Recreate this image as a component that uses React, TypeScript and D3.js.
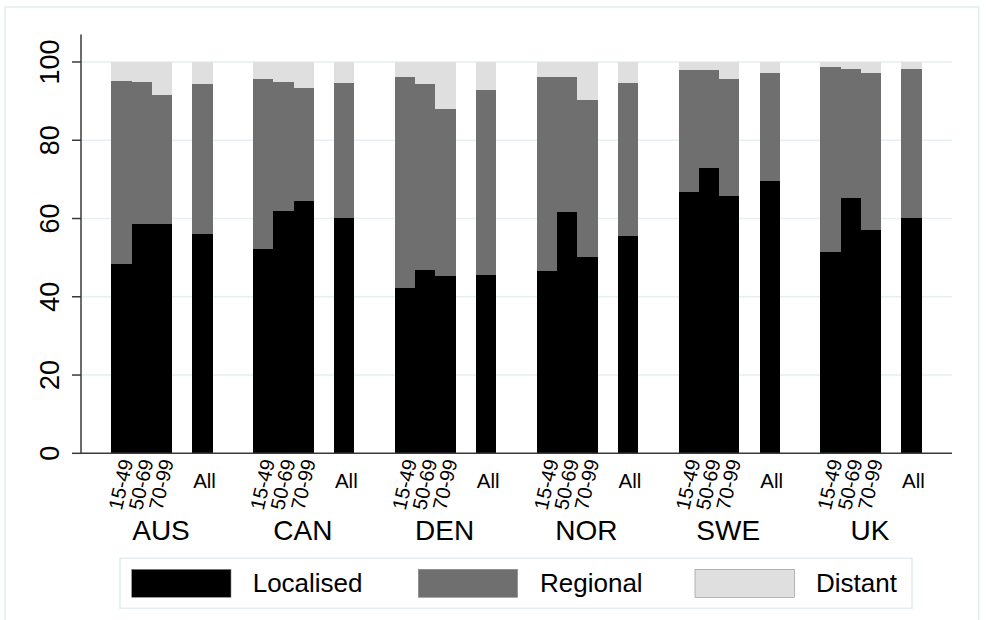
import React from "react";
import * as d3 from "d3";

const countries = ["AUS", "CAN", "DEN", "NOR", "SWE", "UK"];
const ageGroups = ["15-49", "50-69", "70-99", "All"];
const stages = ["Localised", "Regional", "Distant"];
const yTicks = [0, 20, 40, 60, 80, 100];

// percentages per country, in the order of ageGroups
const localised = [
  [48.5, 58.6, 58.6, 56.0],
  [52.3, 61.8, 64.4, 60.2],
  [42.2, 46.8, 45.2, 45.5],
  [46.5, 61.6, 50.1, 55.6],
  [66.7, 73.0, 65.8, 69.7],
  [51.4, 65.2, 57.0, 60.2],
];
const regional = [
  [46.6, 36.2, 33.0, 38.3],
  [43.4, 33.0, 29.0, 34.4],
  [53.9, 47.5, 42.8, 47.4],
  [49.6, 34.5, 40.1, 39.0],
  [31.2, 24.9, 29.8, 27.4],
  [47.4, 33.0, 40.1, 37.9],
];
const distant = [
  [4.9, 5.2, 8.4, 5.7],
  [4.3, 5.2, 6.6, 5.4],
  [3.9, 5.7, 12.0, 7.1],
  [3.9, 3.9, 9.8, 5.4],
  [2.1, 2.1, 4.4, 2.9],
  [1.2, 1.8, 2.9, 1.9],
];

const colors = ["#000000", "#6f6f6f", "#dfdfdf"];

export default function App() {
  const W = 998;
  const H = 620;
  const left = 81;
  const right = 952;
  const bottom = 453.3;

  const y = d3.scaleLinear().domain([0, 107]).range([bottom, 34.6]);
  const xCountry = d3
    .scaleBand<string>()
    .domain(countries)
    .range([left, right])
    .paddingInner(2 / 7)
    .paddingOuter(1.5 / 7);
  const slots = ["15-49", "50-69", "70-99", "gap", "All"];
  const xAge = d3.scaleBand<string>().domain(slots).range([0, xCountry.bandwidth()]).padding(0);

  const series = [localised, regional, distant];

  const bars: React.ReactNode[] = [];
  countries.forEach((c, ci) => {
    ageGroups.forEach((a, ai) => {
      let acc = 0;
      const x0 = (xCountry(c) as number) + (xAge(a) as number);
      series.forEach((s, si) => {
        const v = s[ci][ai];
        const y0 = y(acc);
        const y1 = y(acc + v);
        acc += v;
        bars.push(
          <rect
            key={`${c}-${a}-${si}`}
            x={x0}
            y={y1}
            width={xAge.bandwidth()}
            height={y0 - y1}
            fill={colors[si]}
            shapeRendering="crispEdges"
          />
        );
      });
    });
  });

  const legendSwatchX = [131.7, 418.3, 695];
  const legendTextX = [252.7, 540, 816];

  return (
    <div style={{ position: "absolute", left: 0, top: 0 }}>
      <svg width={W} height={H} style={{ display: "block", fontFamily: "Arial, 'Liberation Sans', sans-serif" }}>
        <rect x={0} y={0} width={W} height={H} fill="#ffffff" />
        <rect x={5} y={7} width={973.7} height={640} fill="none" stroke="#e3edf0" strokeWidth={1.5} />

        {/* gridlines */}
        {yTicks.filter((t) => t > 0).map((t) => (
          <line key={`g${t}`} x1={left} x2={right} y1={y(t)} y2={y(t)} stroke="#e6eff1" strokeWidth={1.6} />
        ))}

        {bars}

        {/* axes */}
        <line x1={left} x2={left} y1={y(107)} y2={bottom} stroke="#3a3a3a" strokeWidth={1.5} />
        <line x1={left} x2={right} y1={bottom} y2={bottom} stroke="#3a3a3a" strokeWidth={1.5} />
        {yTicks.map((t) => (
          <g key={`t${t}`}>
            <line x1={72} x2={left} y1={y(t)} y2={y(t)} stroke="#3a3a3a" strokeWidth={1.5} />
            <text
              transform={`translate(50,${y(t)}) rotate(-90)`}
              textAnchor="middle"
              dominantBaseline="central"
              fontSize={27}
              fill="#000"
            >
              {t}
            </text>
          </g>
        ))}

        {/* age labels */}
        {countries.map((c) =>
          ageGroups.map((a) => {
            const cx = (xCountry(c) as number) + (xAge(a) as number) + xAge.bandwidth() / 2;
            if (a === "All") {
              return (
                <text key={`${c}-${a}-l`} x={cx + 2} y={487.5} textAnchor="middle" fontSize={20.5} fill="#000">
                  {a}
                </text>
              );
            }
            return (
              <text
                key={`${c}-${a}-l`}
                transform={`translate(${cx + 5},459.5) rotate(-77)`}
                textAnchor="end"
                dominantBaseline="central"
                fontSize={20}
                fill="#000"
              >
                {a}
              </text>
            );
          })
        )}

        {/* country labels */}
        {countries.map((c) => (
          <text
            key={`c${c}`}
            x={(xCountry(c) as number) + xCountry.bandwidth() / 2 - 1}
            y={539.5}
            textAnchor="middle"
            fontSize={28}
            fill="#000"
          >
            {c}
          </text>
        ))}

        {/* legend */}
        <rect x={120} y={558.3} width={792} height={50} fill="#fff" stroke="#e3edf0" strokeWidth={1.5} />
        {stages.map((s, i) => (
          <g key={`lg${s}`}>
            <rect x={legendSwatchX[i]} y={569.3} width={99.3} height={28} fill={colors[i]} stroke="#8a8a8a" strokeWidth={0.6} />
            <text x={legendTextX[i]} y={592.3} fontSize={26} fill="#000">
              {s}
            </text>
          </g>
        ))}
      </svg>
    </div>
  );
}
